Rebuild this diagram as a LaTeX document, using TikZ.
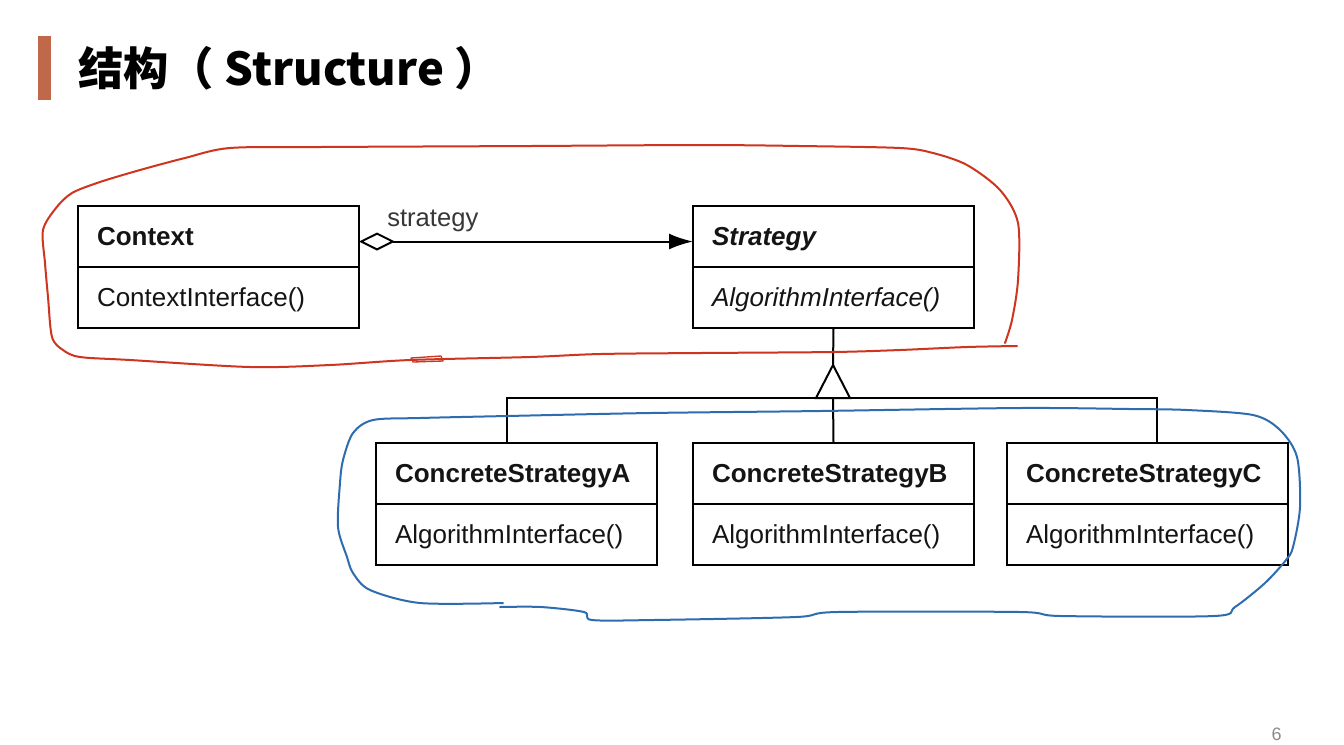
\documentclass[tikz,border=0pt]{standalone}
\usepackage{fontspec}
\setmainfont{Liberation Sans}
\newfontfamily\cjk{Noto Sans CJK SC}
\usetikzlibrary{arrows.meta}
\definecolor{barc}{RGB}{192,104,74}
\definecolor{redc}{RGB}{206,52,30}
\definecolor{bluec}{RGB}{46,108,176}
\definecolor{txt}{RGB}{20,20,20}
\definecolor{pgnum}{RGB}{140,140,140}
\tikzset{
  box/.style={draw, rectangle, line width=1.5pt, minimum width=281*0.75pt,
    minimum height=61*0.75pt, inner xsep=19*0.75pt, inner ysep=0pt, outer sep=0pt,
    text width=243*0.75pt, align=left, text height=14pt, text depth=0pt,
    font=\fontsize{19.5pt}{22pt}\selectfont, text=txt},
  hd/.style={box, font=\fontsize{19.5pt}{22pt}\selectfont\bfseries},
  conn/.style={line width=1.5pt, line join=miter},
  lbl/.style={inner sep=0pt, font=\fontsize{19.2pt}{22pt}\selectfont, text=txt!85},
  sketch/.style={line width=1.5pt, line cap=round, line join=round}
}
\begin{document}
\begin{tikzpicture}[x=0.75pt,y=-0.75pt]
\useasboundingbox (0,0) rectangle (1344,744);
\fill[white] (0,0) rectangle (1344,744);

% title
\fill[barc] (38,36) rectangle (51,100);
\node[anchor=base west, inner sep=0pt, font=\cjk\bfseries\fontsize{34pt}{40pt}\selectfont] (title) at (78,85) {结构（ Structure ）};

% classes
\node[hd, anchor=north west] (ctxH) at (78,206) {Context};
\node[box, anchor=north] (ctxB) at (ctxH.south) {ContextInterface()};

\node[hd, anchor=north west] (stH) at (693,206) {\itshape Strategy};
\node[box, anchor=north] (stB) at (stH.south) {\itshape AlgorithmInterface()};

\node[hd, anchor=north west] (aH) at (376,443) {ConcreteStrategyA};
\node[box, anchor=north] (aB) at (aH.south) {AlgorithmInterface()};

\node[hd, anchor=north west] (bH) at (693,443) {ConcreteStrategyB};
\node[box, anchor=north] (bB) at (bH.south) {AlgorithmInterface()};

\node[hd, anchor=north west] (cH) at (1007,443) {ConcreteStrategyC};
\node[box, anchor=north] (cB) at (cH.south) {AlgorithmInterface()};

% association
\draw[conn, {Diamond[open,length=36*0.75pt,width=18*0.75pt]}-{Latex[length=24*0.75pt,width=16*0.75pt]}]
  ([yshift=-5*0.75pt]ctxH.east) -- ([yshift=-5*0.75pt]stH.west);
\node[lbl, anchor=base west] (lab) at (387,226) {strategy};

% inheritance
\coordinate (apex) at (833,365);
\coordinate (tb) at (833,398);
\draw[conn] (stB.south) -- (apex);
\draw[conn] (apex) -- ++(-17,33) -- ++(34,0) -- cycle;
\draw[conn] ([xshift=-9.5*0.75pt]aH.north) |- (tb) -| ([xshift=9.5*0.75pt]cH.north);
\draw[conn] (bH.north) -- (tb);

% red freehand outline
\draw[sketch, redc] plot[smooth, tension=0.5] coordinates {
(1017,346) (967,347) (900,350) (833,352) (700,353) (600,354) (530,357) (410,360)
(330,365) (250,367) (130,360) (80,357) (63,350) (52,337) (48,297) (45,263)
(43,230) (56,208) (72,193) (100,182) (140,170) (185,158) (230,148) (320,147)
(530,146) (700,145) (800,146) (900,148) (933,153) (967,165) (1000,190) (1018,223)
(1018,280) (1012,320) (1005,343)};
\draw[redc, line width=1pt, line join=round] (411,358) -- (441,356) -- (443,361) -- (413,362) -- cycle;

% blue freehand outline
\draw[sketch, bluec] plot[smooth, tension=0.5] coordinates {
(503,603) (420,603) (370,590) (353,573) (347,557) (338,527) (340,483) (343,460)
(353,433) (373,420) (420,418) (507,416) (650,413) (820,411) (1020,408) (1130,409)
(1187,410) (1253,415) (1280,430) (1297,457) (1300,507) (1293,547) (1286,560)
(1265,583) (1235,607) (1214,616) (1061,616) (1020,612) (837,612) (796,617)
(653,620) (592,620) (584,612) (541,607) (500,607)};

% page number
\node[anchor=base east, inner sep=0pt, text=pgnum, font=\fontsize{13.5pt}{16pt}\selectfont] (pg) at (1282,740) {6};
\end{tikzpicture}
\end{document}
